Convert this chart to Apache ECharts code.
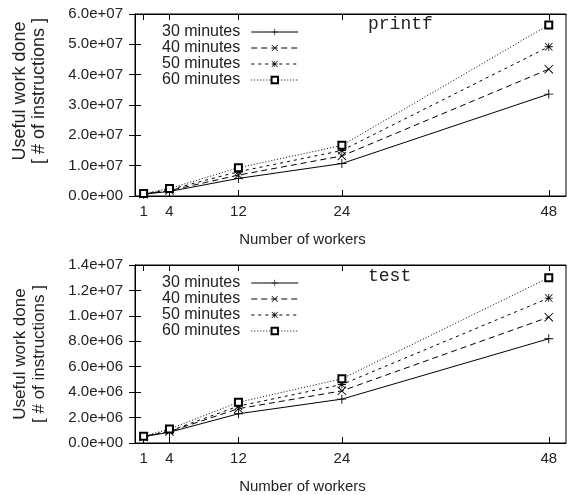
<!DOCTYPE html>
<html>
<head>
<meta charset="utf-8">
<script src="https://cdn.jsdelivr.net/npm/echarts@6/dist/echarts.min.js"></script>
<style>
  html, body { margin: 0; padding: 0; background: #fff; }
  #main { width: 571px; height: 495px; }
</style>
</head>
<body>
<div id="main"></div>
<script>
const workers = [1, 4, 12, 24, 48];
const seriesNames = ['30 minutes', '40 minutes', '50 minutes', '60 minutes'];

const printf30 = [6.0e5, 1.5e6, 5.8e6, 1.07e7, 3.36e7];
const printf40 = [6.5e5, 1.8e6, 6.9e6, 1.32e7, 4.18e7];
const printf50 = [7.0e5, 2.1e6, 8.0e6, 1.50e7, 4.92e7];
const printf60 = [8.0e5, 2.5e6, 9.3e6, 1.67e7, 5.64e7];

const test30 = [5.0e5, 8.5e5, 2.3e6, 3.45e6, 8.2e6];
const test40 = [5.0e5, 9.0e5, 2.7e6, 4.1e6, 9.9e6];
const test50 = [5.2e5, 9.5e5, 2.9e6, 4.6e6, 1.14e7];
const test60 = [5.4e5, 1.1e6, 3.2e6, 5.05e6, 1.30e7];

const FONT = 'Liberation Sans, Arial, sans-serif';
const MONO = 'Liberation Mono, Courier New, monospace';

// gnuplot-ish point shapes
const plusPath = 'path://M4.5,0h1v10h-1z M0,4.5h10v1h-10z';
const crossPath = 'path://M0.7,0L10,9.3L9.3,10L0,0.7z M9.3,0L10,0.7L0.7,10L0,9.3z';
const starPath = 'path://M4.5,0h1v10h-1z M0,4.5h10v1h-10z M0.7,0L10,9.3L9.3,10L0,0.7z M9.3,0L10,0.7L0.7,10L0,9.3z';
const symbols = [plusPath, crossPath, starPath, 'emptyRect'];
const symbolSizes = [9, 9, 8, 7];
const dashes = ['solid', [6, 4], [3, 4], [1, 2]];

function sci(v) {
  const parts = v.toExponential(1).split('e');
  const exp = parts[1];
  return parts[0] + 'e' + exp[0] + exp.slice(1).padStart(2, '0');
}

const dom = document.getElementById('main');
const myChart = echarts.init(dom);

function xAxes(gridIndex) {
  const common = {
    gridIndex: gridIndex,
    type: 'value',
    min: 0,
    max: 50,
    splitLine: { show: false },
    axisLine: { show: true, onZero: false, lineStyle: { color: '#000', width: 1 } },
    axisTick: { inside: true, length: 6, customValues: workers, lineStyle: { color: '#000' } }
  };
  return [
    Object.assign({}, common, {
      position: 'bottom',
      name: 'Number of workers',
      nameLocation: 'middle',
      nameGap: 36,
      nameTextStyle: { fontFamily: FONT, fontSize: 15, color: '#222', padding: [0, 96, 0, 0] },
      axisLabel: { customValues: workers, fontFamily: FONT, fontSize: 15, color: '#222', margin: 8 }
    }),
    Object.assign({}, common, {
      position: 'top',
      axisLabel: { show: false }
    })
  ];
}

function yAxes(gridIndex, max, interval, nameSize, pad) {
  const common = {
    gridIndex: gridIndex,
    type: 'value',
    min: 0,
    max: max,
    interval: interval,
    splitLine: { show: false },
    axisLine: { show: true, lineStyle: { color: '#000', width: 1 } },
    axisTick: { inside: true, length: 6, lineStyle: { color: '#000' } }
  };
  return [
    Object.assign({}, common, {
      position: 'left',
      name: 'Useful work done\n[ # of instructions ]',
      nameLocation: 'middle',
      nameGap: 86,
      nameTextStyle: { fontFamily: FONT, fontSize: nameSize, color: '#222', lineHeight: 19, padding: pad },
      axisLabel: { formatter: sci, fontFamily: FONT, fontSize: 15, color: '#222', margin: 12 }
    }),
    Object.assign({}, common, {
      position: 'right',
      axisLabel: { show: false }
    })
  ];
}

function makeSeries(name, k, data, xi, yi) {
  return {
    name: name,
    type: 'line',
    xAxisIndex: xi,
    yAxisIndex: yi,
    data: workers.map((w, i) => [w, data[i]]),
    symbol: symbols[k],
    symbolSize: symbolSizes[k],
    showSymbol: true,
    animation: false,
    lineStyle: { color: '#000', width: 1, type: dashes[k] },
    itemStyle: { color: '#000', borderColor: '#000', borderWidth: k === 3 ? 1 : 0 }
  };
}

const printfData = [printf30, printf40, printf50, printf60];
const testData = [test30, test40, test50, test60];

const series = [];
seriesNames.forEach((n, k) => series.push(makeSeries(n, k, printfData[k], 0, 0)));
seriesNames.forEach((n, k) => series.push(makeSeries(n, k, testData[k], 2, 2)));

function legendAt(top) {
  return {
    data: seriesNames,
    orient: 'vertical',
    align: 'right',
    left: 162,
    top: top,
    itemWidth: 47,
    itemHeight: 8,
    itemGap: 0,
    padding: 0,
    lineStyle: { width: 1 },
    textStyle: { fontFamily: FONT, fontSize: 16, color: '#222', lineHeight: 16, padding: [0, 6, 0, 0] }
  };
}

const option = {
  backgroundColor: '#fff',
  animation: false,
  title: [
    { text: 'printf', left: 363, top: 10, textStyle: { fontFamily: MONO, fontSize: 18, fontWeight: 'normal', color: '#222' } },
    { text: 'test', left: 363, top: 262, textStyle: { fontFamily: MONO, fontSize: 18, fontWeight: 'normal', color: '#222' } }
  ],
  legend: [legendAt(24), legendAt(275)],
  grid: [
    { left: 135, right: 5, top: 14, height: 182, show: true, borderColor: '#000', borderWidth: 1 },
    { left: 135, right: 5, top: 265, height: 181, show: true, borderColor: '#000', borderWidth: 1 }
  ],
  xAxis: xAxes(0).concat(xAxes(1)),
  yAxis: yAxes(0, 6e7, 1e7, 18, [0, 0, 0, 28]).concat(yAxes(1, 1.4e7, 2e6, 17, [0, 0, 0, 0])),
  series: series
};

myChart.setOption(option, true);
</script>
</body>
</html>
